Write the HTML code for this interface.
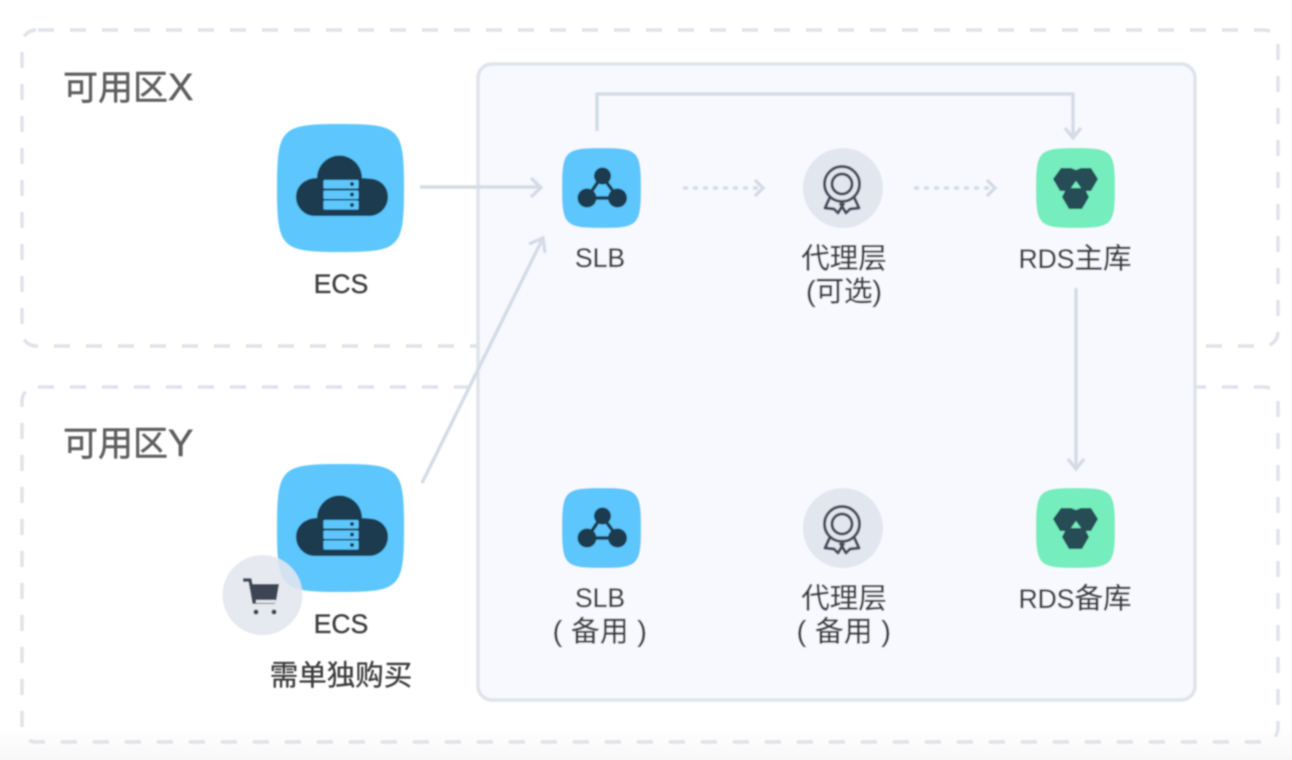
<!DOCTYPE html>
<html lang="zh">
<head>
<meta charset="utf-8">
<title>Diagram</title>
<style>
html,body{margin:0;padding:0;background:#fff;width:1292px;height:760px;overflow:hidden}
svg{display:block}
text{font-family:"Liberation Sans","Noto Sans CJK SC",sans-serif;fill:#3c3c3c;stroke:#3c3c3c;stroke-width:.35;font-size:28.5px;text-anchor:middle}
.lat{font-size:26.5px}
.zone{font-size:35px;fill:#5f5f5f;stroke:#5f5f5f;stroke-width:.5;text-anchor:start}
.zl{font-size:38px}
.ln{fill:none;stroke:#d5dce6;stroke-width:3.5}
</style>
</head>
<body>
<svg width="1292" height="760" viewBox="0 0 1292 760" xmlns="http://www.w3.org/2000/svg">
<defs>
<linearGradient id="bg" x1="0" y1="0" x2="0" y2="1"><stop offset="0" stop-color="#fff"/><stop offset="1" stop-color="#f8f8f8"/></linearGradient>
<filter id="b" x="-5%" y="-5%" width="110%" height="110%"><feGaussianBlur stdDeviation="0.7"/></filter>
<g id="ecs">
<path d="M277 188C277 128 281 124 340.500 124C400 124 404 128 404 188C404 248 400 252 340.500 252C281 252 277 248 277 188Z" fill="#5bc6fd"/>
<path d="M315 216C304 216 296 207 296 197C296 186 305 178 317 178A22.500 22.500 0 0 1 362 178L369 178.500C380 179 388 186 388 197C388 207 380 216 369 216Z" fill="#1b3b50"/>
<rect x="323.500" y="180" width="35" height="8.500" rx="1" fill="#5bc6fd"/>
<rect x="323.500" y="190.500" width="35" height="8.500" rx="1" fill="#5bc6fd"/>
<rect x="323.500" y="200.500" width="35" height="9" rx="1" fill="#5bc6fd"/>
<circle cx="352" cy="184" r="2" fill="#1b3b50"/><circle cx="352" cy="194.500" r="2" fill="#1b3b50"/><circle cx="352" cy="205" r="2" fill="#1b3b50"/>
</g>
<g id="slb">
<path d="M562 188C562 151 565 148 601.500 148C638 148 641 151 641 188C641 225 638 228 601.500 228C565 228 562 225 562 188Z" fill="#5bc6fd"/>
<path d="M602 176L587 198L618 198Z" fill="none" stroke="#1b3b50" stroke-width="3.500"/>
<circle cx="602.500" cy="176" r="8.500" fill="#1b3b50"/><circle cx="587" cy="198" r="9.500" fill="#1b3b50"/><circle cx="617.500" cy="198" r="9.500" fill="#1b3b50"/>
</g>
<g id="rds">
<path d="M1036 188C1036 151 1039 148 1075.500 148C1112 148 1115 151 1115 188C1115 225 1112 228 1075.500 228C1039 228 1036 225 1036 188Z" fill="#74edbd"/>
<path d="M1061 168L1071 168L1076 170L1081 168L1091 168L1098 179L1091 191L1086 191L1089 197L1082 209L1069 209L1062 197L1065 191L1060 191L1053 179Z" fill="#264d56"/>
<path d="M1076 181L1081 188L1071 188Z" fill="#74edbd"/>
</g>
<g id="medal">
<circle cx="843" cy="188" r="40" fill="#e2e6ee"/>
<g fill="none" stroke="#454c5a" stroke-width="3" stroke-linejoin="round">
<path d="M830 197L825 208L834 209L838 213L844 203"/>
<path d="M854 197L859 208L850 209L846 213L840 203"/>
<circle cx="842" cy="184" r="17.500" fill="#e2e6ee"/>
<circle cx="842" cy="184" r="10"/>
</g>
</g>
</defs>

<rect x="0" y="725" width="1292" height="35" fill="url(#bg)"/>

<g filter="url(#b)">
<rect x="22" y="30" width="1256" height="316" rx="14" fill="none" stroke="#dfe2e9" stroke-width="3.500" stroke-dasharray="16 16" stroke-dashoffset="-2"/>
<rect x="22" y="387" width="1256" height="355" rx="14" fill="none" stroke="#dfe2e9" stroke-width="3.500" stroke-dasharray="16 16" stroke-dashoffset="-2"/>
<rect x="478" y="64" width="717" height="636" rx="14" fill="#f8f9fe" stroke="#dfe3ea" stroke-width="3.500"/>

<path class="ln" d="M420 187H540M531 178L541 187.500L531 197"/>
<path class="ln" d="M422 483L542 240M529 244L543 238L545 253"/>
<path class="ln" d="M597 131V94H1073V137M1065 128L1073 138L1081 128"/>
<path class="ln" d="M1076 288V468M1068 459L1076 469L1084 459"/>
<path class="ln" d="M683 188H760" stroke-dasharray="5 5"/>
<path class="ln" d="M755 180L763 188L755 196"/>
<path class="ln" d="M914 188H992" stroke-dasharray="5 5"/>
<path class="ln" d="M987 180L995 188L987 196"/>

<use href="#ecs"/>
<use href="#slb"/>
<use href="#medal"/>
<use href="#rds"/>
<use href="#ecs" y="340"/>
<use href="#slb" y="340"/>
<use href="#medal" y="340"/>
<use href="#rds" y="340"/>

<circle cx="262.500" cy="595" r="40" fill="#e2e6ee" fill-opacity=".88"/>
<path d="M243 580H250L254 602H275" fill="none" stroke="#3d4454" stroke-width="3.500"/>
<path d="M250 584H279L276 602H254Z" fill="#3d4454"/>
<rect x="256" y="600" width="20" height="3" fill="#e2e6ee"/>
<circle cx="256" cy="612" r="2.500" fill="#3d4454"/><circle cx="274" cy="612" r="2.500" fill="#3d4454"/>

<text class="zone" x="63" y="100">可用区<tspan class="zl">X</tspan></text>
<text class="zone" x="63" y="456">可用区<tspan class="zl">Y</tspan></text>
<text class="lat" x="341" y="293">ECS</text>
<text class="lat" x="600" y="267">SLB</text>
<text x="844" y="268">代理层</text>
<text x="844" y="301">(可选)</text>
<text x="1075" y="268"><tspan class="lat">RDS</tspan>主库</text>
<text class="lat" x="341" y="633">ECS</text>
<text x="341" y="685">需单独购买</text>
<text class="lat" x="600" y="607">SLB</text>
<text x="600" y="641" letter-spacing=".5">( 备用 )</text>
<text x="844" y="608">代理层</text>
<text x="844" y="641" letter-spacing=".5">( 备用 )</text>
<text x="1075" y="608"><tspan class="lat">RDS</tspan>备库</text>
</g>
</svg>
</body>
</html>
